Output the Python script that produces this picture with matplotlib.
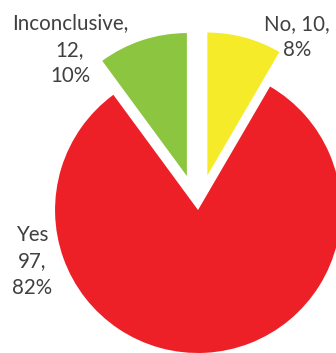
import matplotlib.pyplot as plt

categories = ['No', 'Yes', 'Inconclusive']
counts = [10, 97, 12]
percents = [8, 82, 10]
colors = ['#F5EB28', '#ED2028', '#8CC540']
explode = [0.25, 0, 0.25]

fig = plt.figure(figsize=(3.36, 3.53), dpi=100)
ax = fig.add_axes([0, 0, 1, 1])
ax.pie(counts, colors=colors, explode=explode, startangle=90,
       counterclock=False, wedgeprops=dict(linewidth=0))

# label text: name, count, percent
txt = dict(ha='center', va='center', fontsize=14.8, color='#404040',
           family='Lato', linespacing=1.4)
ax.text(0.69, 1.21, '%s, %d,\n%d%%' % (categories[0], counts[0], percents[0]), **txt)
ax.text(-1.16, -0.36, '%s\n%d,\n%d%%' % (categories[1], counts[1], percents[1]), **txt)
ax.text(-0.895, 1.12, '%s,\n%d,\n%d%%' % (categories[2], counts[2], percents[2]), **txt)

ax.set_xlim(-1.385, 0.965)
ax.set_ylim(-1.0, 1.469)
ax.axis('off')
fig.savefig('out.png', dpi=100)
